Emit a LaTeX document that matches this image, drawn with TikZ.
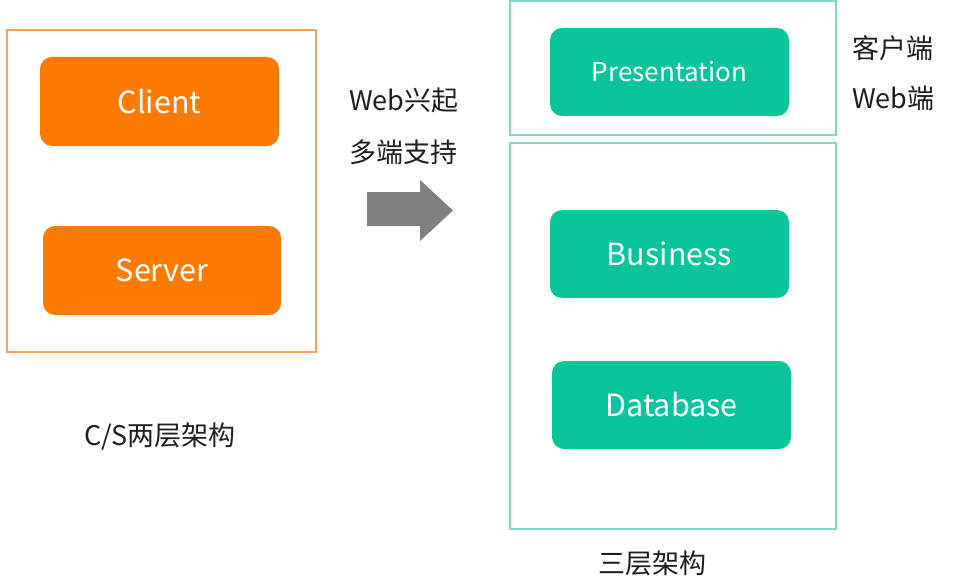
\documentclass[tikz,border=0pt]{standalone}
\usepackage{fontspec}
\setmainfont{Noto Sans CJK SC}
\definecolor{orangefill}{HTML}{FF7A00}
\definecolor{orangeline}{HTML}{F7A25C}
\definecolor{tealfill}{HTML}{0AC59A}
\definecolor{tealline}{HTML}{7FDCC2}
\definecolor{txt}{HTML}{1E1E1E}
\definecolor{arrowgray}{HTML}{808080}
\begin{document}
\begin{tikzpicture}[x=1pt,y=-1pt,
  frame/.style={draw, line width=1.2pt, inner sep=0pt},
  block/.style={rounded corners=12pt, inner sep=0pt, text=white,
    font=\fontsize{30.5}{34}\selectfont},
  label/.style={text=txt, inner sep=0pt, font=\fontsize{27}{31}\selectfont}]
\useasboundingbox[fill=white] (0,0) rectangle (963,586);
% left frame
\node[frame, draw=orangeline, minimum width=309pt, minimum height=322pt] (csframe) at (161.5,191) {};
\node[block, fill=orangefill, minimum width=239pt, minimum height=89pt] (client) at (159.5,101.5) {Client};
\node[block, fill=orangefill, minimum width=238pt, minimum height=89pt] (server) at (162,270.5) {Server};
\node[label] (cslabel) at (160,437) {C/S两层架构};
% middle
\node[label, anchor=west] (web) at (349,100) {Web兴起};
\node[label, anchor=west] (multi) at (349,152) {多端支持};
\fill[arrowgray] (367,192) -- (420,192) -- (420,180) -- (453,210.5) -- (420,241) -- (420,226) -- (367,226) -- cycle;
% right frames
\node[frame, draw=tealline, minimum width=326pt, minimum height=134pt] (topframe) at (673,68) {};
\node[frame, draw=tealline, minimum width=326pt, minimum height=386pt] (botframe) at (673,336) {};
\node[block, fill=tealfill, minimum width=239pt, minimum height=88pt, font=\fontsize{26}{30}\selectfont] (pres) at (669.5,72) {Presentation};
\node[block, fill=tealfill, minimum width=239pt, minimum height=88pt] (bus) at (669.5,254) {Business};
\node[block, fill=tealfill, minimum width=239pt, minimum height=88pt] (db) at (671.5,405) {Database};
\node[label, anchor=west] (client2) at (852,48) {客户端};
\node[label, anchor=west] (webend) at (852,98) {Web端};
\node[label] (threelabel) at (652,563) {三层架构};
\end{tikzpicture}
\end{document}
